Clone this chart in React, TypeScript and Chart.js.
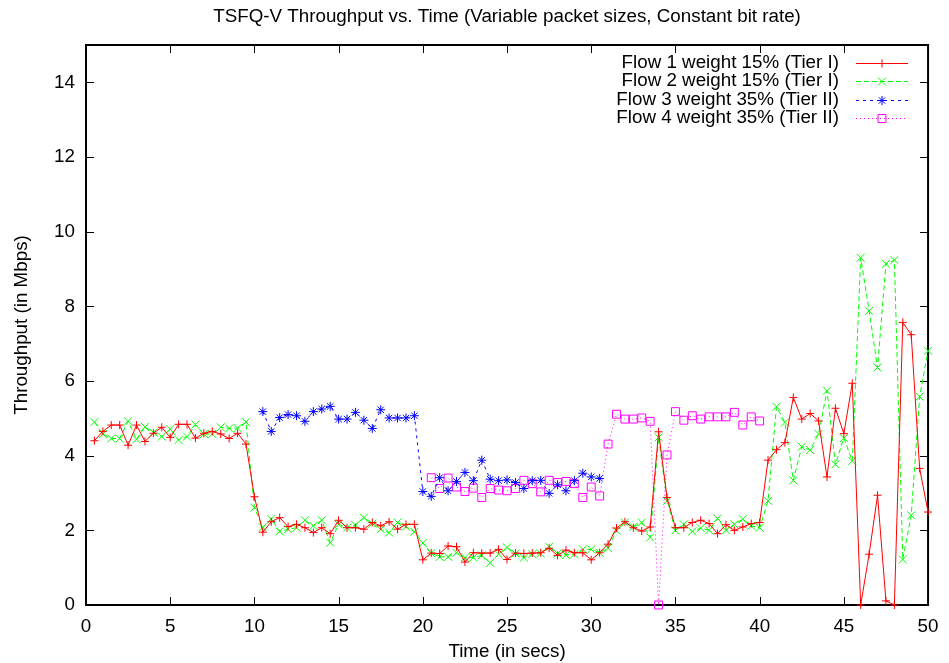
import React, { useEffect, useRef } from 'react';
import { Chart, registerables } from 'chart.js';
import { drawPoint } from 'chart.js/helpers';

Chart.register(...registerables);

const TITLE = 'TSFQ-V Throughput vs. Time (Variable packet sizes, Constant bit rate)';
const X_LABEL = 'Time (in secs)';
const Y_LABEL = 'Throughput (in Mbps)';

const times = [
  0.5, 1, 1.5, 2, 2.5, 3, 3.5, 4, 4.5, 5, 5.5, 6, 6.5, 7, 7.5, 8, 8.5, 9, 9.5, 10,
  10.5, 11, 11.5, 12, 12.5, 13, 13.5, 14, 14.5, 15, 15.5, 16, 16.5, 17, 17.5, 18, 18.5, 19, 19.5, 20,
  20.5, 21, 21.5, 22, 22.5, 23, 23.5, 24, 24.5, 25, 25.5, 26, 26.5, 27, 27.5, 28, 28.5, 29, 29.5, 30,
  30.5, 31, 31.5, 32, 32.5, 33, 33.5, 34, 34.5, 35, 35.5, 36, 36.5, 37, 37.5, 38, 38.5, 39, 39.5, 40,
  40.5, 41, 41.5, 42, 42.5, 43, 43.5, 44, 44.5, 45, 45.5, 46, 46.5, 47, 47.5, 48, 48.5, 49, 49.5, 50,
];

const flow1 = [
  4.40, 4.65, 4.82, 4.82, 4.28, 4.82, 4.38, 4.60, 4.76, 4.49, 4.84, 4.84, 4.47, 4.60, 4.65, 4.58, 4.46, 4.60, 4.31, 2.90,
  1.95, 2.23, 2.34, 2.10, 2.16, 2.07, 1.94, 2.07, 1.91, 2.27, 2.07, 2.07, 2.03, 2.21, 2.12, 2.23, 2.03, 2.16, 2.16, 1.21,
  1.39, 1.38, 1.58, 1.56, 1.15, 1.40, 1.39, 1.39, 1.49, 1.22, 1.39, 1.38, 1.39, 1.40, 1.52, 1.33, 1.47, 1.40, 1.40, 1.21,
  1.40, 1.63, 2.06, 2.23, 2.07, 1.98, 2.09, 4.64, 2.88, 2.07, 2.07, 2.21, 2.27, 2.18, 1.91, 2.15, 2.00, 2.09, 2.18, 2.21,
  3.88, 4.16, 4.35, 5.56, 4.98, 5.13, 4.93, 3.43, 5.27, 4.59, 5.94, 0.00, 1.36, 2.94, 0.11, 0.00, 7.57, 7.24, 3.66, 2.49,
];

const flow2 = [
  4.90, 4.58, 4.46, 4.46, 4.92, 4.44, 4.77, 4.62, 4.51, 4.71, 4.42, 4.51, 4.83, 4.58, 4.58, 4.76, 4.73, 4.74, 4.90, 2.61,
  2.08, 2.30, 1.97, 2.03, 2.07, 2.27, 2.12, 2.27, 1.67, 2.16, 2.07, 2.14, 2.34, 2.18, 2.03, 1.94, 2.21, 2.10, 1.96, 1.66,
  1.39, 1.29, 1.29, 1.40, 1.27, 1.27, 1.33, 1.13, 1.36, 1.54, 1.38, 1.27, 1.36, 1.38, 1.56, 1.38, 1.34, 1.36, 1.49, 1.49,
  1.40, 1.52, 1.99, 2.21, 2.09, 2.21, 1.81, 4.49, 2.79, 2.00, 2.16, 1.97, 2.06, 2.00, 2.32, 2.00, 2.16, 2.30, 2.12, 2.07,
  2.79, 5.31, 4.89, 3.34, 4.24, 4.15, 4.58, 5.74, 3.77, 4.47, 3.86, 9.30, 7.88, 6.36, 9.14, 9.24, 1.22, 2.40, 5.58, 6.81,
];

const flow3 = [
  null, null, null, null, null, null, null, null, null, null, null, null, null, null, null, null, null, null, null, null,
  5.18, 4.65, 5.02, 5.10, 5.07, 4.92, 5.18, 5.25, 5.32, 4.98, 4.98, 5.16, 4.95, 4.73, 5.23, 5.01, 5.01, 5.01, 5.07, 3.04,
  2.91, 3.41, 3.06, 3.31, 3.55, 3.33, 3.88, 3.37, 3.33, 3.35, 3.28, 3.12, 3.33, 3.34, 2.99, 3.22, 3.06, 3.33, 3.53, 3.43,
  3.39, null, null, null, null, null, null, null, null, null, null, null, null, null, null, null, null, null, null, null,
  null, null, null, null, null, null, null, null, null, null, null, null, null, null, null, null, null, null, null, null,
];

const flow4 = [
  null, null, null, null, null, null, null, null, null, null, null, null, null, null, null, null, null, null, null, null,
  null, null, null, null, null, null, null, null, null, null, null, null, null, null, null, null, null, null, null, null,
  3.41, 3.12, 3.40, 3.16, 3.04, 3.13, 2.88, 3.12, 3.08, 3.06, 3.12, 3.34, 3.25, 3.03, 3.34, 3.28, 3.31, 3.25, 2.88, 3.16,
  2.92, 4.31, 5.11, 4.98, 4.98, 5.01, 4.92, 0.00, 4.02, 5.18, 4.95, 5.07, 4.98, 5.04, 5.04, 5.04, 5.16, 4.82, 5.04, 4.93,
  null, null, null, null, null, null, null, null, null, null, null, null, null, null, null, null, null, null, null, null,
];

const seriesLabels = [
  'Flow 1 weight 15% (Tier I)',
  'Flow 2 weight 15% (Tier I)',
  'Flow 3 weight 35% (Tier II)',
  'Flow 4 weight 35% (Tier II)',
];
const seriesColors = ['#ff0000', '#00ff00', '#0000ff', '#ff00ff'];
const seriesMarkers = ['cross', 'crossRot', 'star', 'rect'];
const seriesMarkerRadius = [4, 5.6, 4.5, 5.6];
const seriesDash = [[], [5, 3], [3, 4], [1, 3]];

const FONT_FAMILY = '"Liberation Sans", Arial, Helvetica, sans-serif';
const FONT_SIZE = 18.8;

function toPoints(values: (number | null)[]) {
  const pts: { x: number; y: number }[] = [];
  values.forEach((v, i) => {
    if (v !== null) pts.push({ x: times[i], y: v });
  });
  return pts;
}

const framePlugin = {
  id: 'gnuFrame',
  beforeDatasetsDraw(chart: any) {
    const { ctx, chartArea } = chart;
    const { left, right, top, bottom } = chartArea;
    const xs = chart.scales.x;
    const ys = chart.scales.y;
    const L = 8;
    ctx.save();
    ctx.strokeStyle = '#000';
    ctx.lineWidth = 1;
    ctx.beginPath();
    xs.ticks.forEach((t: any) => {
      const px = Math.round(xs.getPixelForValue(t.value)) + 0.5;
      ctx.moveTo(px, bottom);
      ctx.lineTo(px, bottom - L);
      ctx.moveTo(px, top);
      ctx.lineTo(px, top + L);
    });
    ys.ticks.forEach((t: any) => {
      const py = Math.round(ys.getPixelForValue(t.value)) + 0.5;
      ctx.moveTo(left, py);
      ctx.lineTo(left + L, py);
      ctx.moveTo(right, py);
      ctx.lineTo(right - L, py);
    });
    ctx.stroke();
    ctx.lineWidth = 2;
    ctx.strokeRect(left, top, right - left, bottom - top);
    ctx.restore();
  },
  afterDraw(chart: any) {
    const { ctx, chartArea } = chart;
    ctx.save();
    ctx.font = `${FONT_SIZE}px ${FONT_FAMILY}`;
    ctx.fillStyle = '#000';
    ctx.textAlign = 'center';
    ctx.textBaseline = 'middle';
    ctx.fillText(TITLE, (chartArea.left + chartArea.right) / 2, 17);

    const textRight = 839;
    const lineStart = 856;
    const lineEnd = 908;
    const markX = 882;
    const y0 = 62.5;
    const dy = 18.6;
    ctx.textAlign = 'right';
    seriesLabels.forEach((label, i) => {
      const y = y0 + i * dy;
      const yl = Math.round(y) + 0.5;
      ctx.fillStyle = '#000';
      ctx.fillText(label, textRight, y);
      ctx.save();
      ctx.strokeStyle = seriesColors[i];
      ctx.lineWidth = 1;
      ctx.setLineDash(seriesDash[i]);
      ctx.beginPath();
      ctx.moveTo(lineStart, yl);
      ctx.lineTo(lineEnd, yl);
      ctx.stroke();
      ctx.setLineDash([]);
      ctx.strokeStyle = seriesColors[i];
      ctx.fillStyle = 'rgba(0,0,0,0)';
      ctx.lineWidth = 1;
      drawPoint(ctx, { pointStyle: seriesMarkers[i], radius: seriesMarkerRadius[i], rotation: 0, borderWidth: 1 } as any, markX, yl);
      ctx.restore();
    });
    ctx.restore();
  },
};

export default function App() {
  const canvasRef = useRef<HTMLCanvasElement | null>(null);

  useEffect(() => {
    if (!canvasRef.current) return;
    const font = { family: FONT_FAMILY, size: FONT_SIZE };
    const values = [flow1, flow2, flow3, flow4];
    const datasets = seriesLabels.map((label, i) => ({
      label,
      data: toPoints(values[i]),
      borderColor: seriesColors[i],
      borderWidth: 1,
      borderDash: seriesDash[i],
      pointStyle: seriesMarkers[i],
      pointRadius: seriesMarkerRadius[i],
      pointBorderWidth: 1,
      pointBorderColor: seriesColors[i],
      pointBackgroundColor: 'rgba(0,0,0,0)',
      pointHoverRadius: seriesMarkerRadius[i],
      tension: 0,
      fill: false,
      clip: false,
    }));
    const chart = new Chart(canvasRef.current, {
      type: 'line',
      data: { datasets: datasets as any },
      options: {
        animation: false,
        responsive: false,
        events: [],
        layout: { padding: { left: 0, right: 18, top: 45, bottom: 0 } },
        plugins: {
          legend: { display: false },
          tooltip: { enabled: false },
          title: { display: false },
        },
        scales: {
          x: {
            type: 'linear',
            min: 0,
            max: 50,
            grid: { display: false, drawTicks: false },
            border: { display: false },
            ticks: { stepSize: 5, color: '#000', font, padding: 10.5, maxRotation: 0, autoSkip: false },
            title: { display: true, text: X_LABEL, color: '#000', font, padding: { top: 0, bottom: 0.2 } },
            afterFit: (s: any) => { s.height = 58; },
          },
          y: {
            type: 'linear',
            min: 0,
            max: 15,
            grid: { display: false, drawTicks: false },
            border: { display: false },
            ticks: { stepSize: 2, includeBounds: false, color: '#000', font, padding: 11 },
            title: { display: true, text: Y_LABEL, color: '#000', font, padding: { top: 11, bottom: 0 } },
            afterFit: (s: any) => { s.width = 86; },
          },
        },
      } as any,
      plugins: [framePlugin],
    });
    return () => chart.destroy();
  }, []);

  return (
    <div style={{ position: 'fixed', left: 0, top: 0, width: 949, height: 663, background: '#fff' }}>
      <canvas ref={canvasRef} width={949} height={663} style={{ display: 'block' }} />
    </div>
  );
}
